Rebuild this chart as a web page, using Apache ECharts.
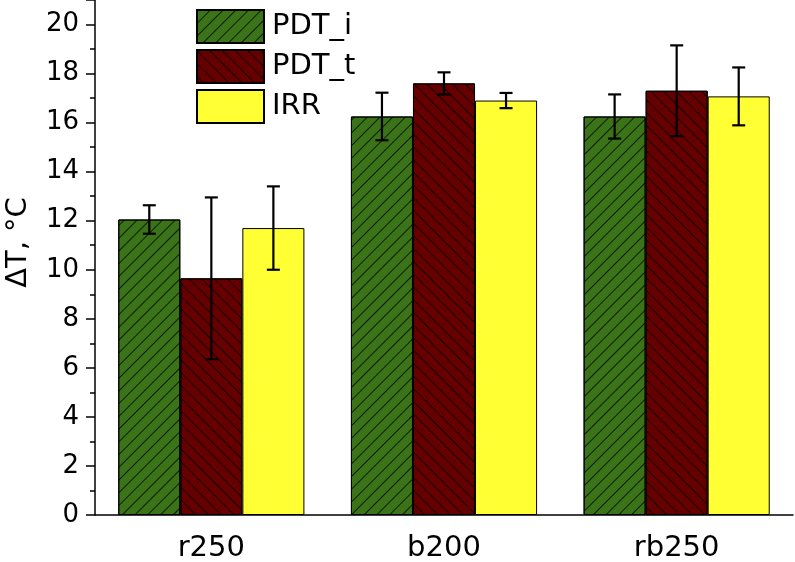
<!DOCTYPE html>
<html>
<head>
<meta charset="utf-8">
<script src="https://cdn.jsdelivr.net/npm/echarts@6/dist/echarts.min.js"></script>
<style>
  html, body { margin: 0; padding: 0; background: #fff; }
  #chart { width: 795px; height: 562px; }
</style>
</head>
<body>
<div id="chart"></div>
<script>
const categories = ['r250', 'b200', 'rb250']
const seriesNames = ['PDT_i', 'PDT_t', 'IRR']
const pdtI = [12.05, 16.25, 16.25]
const pdtT = [9.65, 17.6, 17.3]
const irr = [11.7, 16.9, 17.07]
const pdtIErr = [0.58, 0.97, 0.9]
const pdtTErr = [3.3, 0.45, 1.85]
const irrErr = [1.7, 0.31, 1.18]

const FONT = '"DejaVu Sans", sans-serif'
const colors = ['#3b7318', '#660000', '#ffff33']
const decals = [
  { symbol: 'rect', symbolSize: 1, dashArrayX: [1, 0], dashArrayY: [1, 7.5], rotation: -Math.PI / 4, color: 'rgba(0,0,0,0.75)' },
  { symbol: 'rect', symbolSize: 1, dashArrayX: [1, 0], dashArrayY: [1, 7.5], rotation: Math.PI / 4, color: 'rgba(0,0,0,0.75)' },
  null
]

const values = [pdtI, pdtT, irr]
const errs = [pdtIErr, pdtTErr, irrErr]

function errorSeries(k) {
  return {
    type: 'custom',
    name: seriesNames[k] + ' err',
    xAxisIndex: 0,
    z: 10,
    silent: true,
    data: categories.map((c, i) => [i, values[k][i] - errs[k][i], values[k][i] + errs[k][i]]),
    renderItem(params, api) {
      const barW = api.size([1, 0])[0] * 0.8 / 3
      const lo = api.coord([api.value(0), api.value(1)])
      const hi = api.coord([api.value(0), api.value(2)])
      const x = lo[0] + (k - 1) * barW
      const cap = 6.5
      const style = { stroke: '#000', lineWidth: 2.2 }
      return {
        type: 'group',
        children: [
          { type: 'line', shape: { x1: x, y1: lo[1], x2: x, y2: hi[1] }, style },
          { type: 'line', shape: { x1: x - cap, y1: lo[1], x2: x + cap, y2: lo[1] }, style },
          { type: 'line', shape: { x1: x - cap, y1: hi[1], x2: x + cap, y2: hi[1] }, style }
        ]
      }
    }
  }
}

const chart = echarts.init(document.getElementById('chart'))
chart.setOption({
  animation: false,
  textStyle: { fontFamily: FONT },
  grid: { left: 95, right: 2, top: 0, bottom: 47, containLabel: false, outerBoundsMode: 'none' },
  legend: {
    data: seriesNames,
    orient: 'vertical',
    left: 196,
    top: 9,
    padding: 0,
    itemWidth: 67,
    itemHeight: 33,
    itemGap: 5,
    icon: 'rect',
    textStyle: { fontSize: 29, lineHeight: 33, color: '#000', fontFamily: FONT, padding: [0, 0, 0, 3] }
  },
  xAxis: [
    {
      type: 'category',
      data: categories,
      axisLine: { lineStyle: { color: '#000', width: 1.5 } },
      axisTick: { alignWithLabel: true, length: 9, lineStyle: { color: '#000', width: 1.5 } },
      axisLabel: { color: '#000', fontSize: 29, fontFamily: FONT, margin: 19 }
    },
    {
      type: 'category',
      data: categories,
      position: 'bottom',
      axisLine: { show: false },
      axisTick: { length: 6, lineStyle: { color: '#000', width: 1.5 } },
      axisLabel: { show: false }
    }
  ],
  yAxis: {
    type: 'value',
    min: 0,
    max: 21,
    interval: 2,
    name: 'ΔT, °C',
    nameLocation: 'middle',
    nameRotate: 90,
    nameGap: 62,
    nameTextStyle: { fontSize: 29, color: '#000', fontFamily: FONT, padding: [0, 0, 0, 30] },
    axisLine: { show: true, lineStyle: { color: '#000', width: 1.5 } },
    axisTick: { show: true, length: 9, lineStyle: { color: '#000', width: 1.5 } },
    minorTick: { show: true, splitNumber: 2, length: 5, lineStyle: { color: '#000', width: 1.5 } },
    axisLabel: { color: '#000', fontSize: 26, fontFamily: FONT, margin: 16, showMaxLabel: false },
    splitLine: { show: false }
  },
  series: [
    ...seriesNames.map((n, k) => ({
      type: 'bar',
      name: n,
      xAxisIndex: 0,
      data: values[k],
      barGap: '0%',
      barCategoryGap: '20%',
      itemStyle: {
        color: colors[k],
        borderColor: '#000',
        borderWidth: 1,
        decal: decals[k] || undefined
      },
      emphasis: { disabled: true }
    })),
    ...seriesNames.map((n, k) => errorSeries(k))
  ]
})
</script>
</body>
</html>
